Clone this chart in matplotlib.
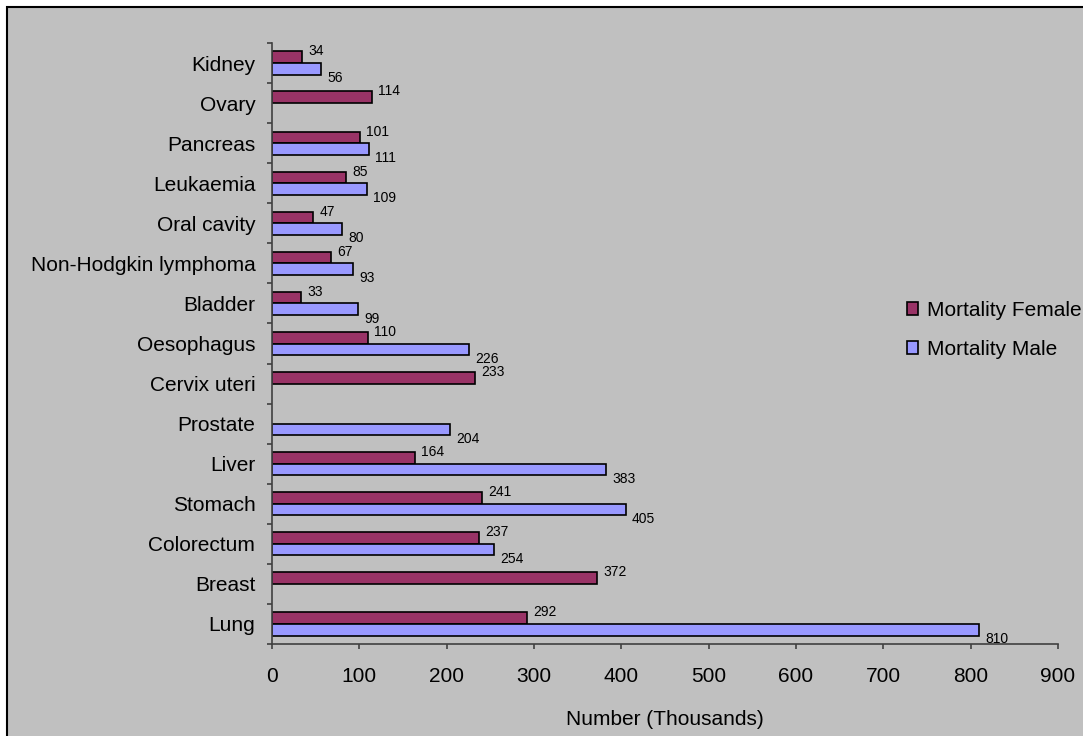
import numpy as np
import matplotlib
matplotlib.use("Agg")
import matplotlib.pyplot as plt
from matplotlib.patches import Rectangle, Patch

plt.rcParams['font.family'] = ['Liberation Sans', 'DejaVu Sans']

# Cancer sites, listed from bottom to top of the chart
sites = ["Lung", "Breast", "Colorectum", "Stomach", "Liver", "Prostate",
         "Cervix uteri", "Oesophagus", "Bladder", "Non-Hodgkin lymphoma",
         "Oral cavity", "Leukaemia", "Pancreas", "Ovary", "Kidney"]
female = [292, 372, 237, 241, 164, np.nan, 233, 110, 33, 67, 47, 85, 101, 114, 34]
male = [810, np.nan, 254, 405, 383, 204, np.nan, 226, 99, 93, 80, 109, 111, np.nan, 56]
x_ticks = [0, 100, 200, 300, 400, 500, 600, 700, 800, 900]

female_color = "#993366"
male_color = "#9999FF"
bg = "#C0C0C0"
axis_color = "#404040"

W, H = 1083, 736
fig = plt.figure(figsize=(W / 100, H / 100), dpi=100, facecolor="white")

# chart area panel
panel = Rectangle((7 / W, -0.05), 1.2, 1 - 7 / H + 0.05,
                  transform=fig.transFigure, facecolor=bg,
                  edgecolor="black", linewidth=1.5, zorder=-10)
fig.add_artist(panel)

ax = fig.add_axes([272 / W, 1 - 644 / H, (1058 - 272) / W, (644 - 43) / H])
ax.set_facecolor("none")
ax.set_zorder(5)

y = np.arange(len(sites))
h = 0.29
f_arr = np.array(female, dtype=float)
m_arr = np.array(male, dtype=float)

fmask = ~np.isnan(f_arr)
mmask = ~np.isnan(m_arr)
ax.barh(y[fmask] + h / 2, f_arr[fmask], height=h, color=female_color,
        edgecolor="black", linewidth=1.2, label="Mortality Female")
ax.barh(y[mmask] - h / 2, m_arr[mmask], height=h, color=male_color,
        edgecolor="black", linewidth=1.2, label="Mortality Male")

for yi, v in zip(y[fmask], f_arr[fmask]):
    ax.annotate(f"{int(v)}", (v, yi + h), xytext=(4.5, 0),
                textcoords="offset points", va="center", ha="left",
                fontsize=10, color="black")
for yi, v in zip(y[mmask], m_arr[mmask]):
    ax.annotate(f"{int(v)}", (v, yi - h), xytext=(4.5, -2.5),
                textcoords="offset points", va="center", ha="left",
                fontsize=10, color="black")

ax.set_xlim(0, 900)
ax.set_ylim(-0.5, len(sites) - 0.5)
ax.set_xticks(x_ticks)
ax.set_xticklabels([str(t) for t in x_ticks], fontsize=15)

# category labels sit between boundary ticks
ax.set_yticks(np.arange(-0.5, len(sites), 1.0))
ax.set_yticklabels([])
ax.set_yticks(y, minor=True)
ax.set_yticklabels(sites, minor=True, fontsize=15)
ax.tick_params(axis="y", which="minor", length=0, pad=12)
ax.tick_params(axis="y", which="major", length=3.5, width=1.2, color=axis_color, direction="out")
ax.tick_params(axis="x", length=3.5, width=1.2, color=axis_color, direction="out", pad=13)

for s in ["top", "right"]:
    ax.spines[s].set_visible(False)
for s in ["left", "bottom"]:
    ax.spines[s].set_color(axis_color)
    ax.spines[s].set_linewidth(1.2)

ax.set_xlabel("Number (Thousands)", fontsize=15, labelpad=17)

handles = [Patch(facecolor=female_color, edgecolor="black", linewidth=1.2),
           Patch(facecolor=male_color, edgecolor="black", linewidth=1.2)]
fig.legend(handles, ["Mortality Female", "Mortality Male"], loc="center left",
           bbox_to_anchor=(907 / W, 1 - 330 / H), frameon=False, fontsize=15,
           handlelength=0.55, handleheight=0.55, handletextpad=0.4,
           labelspacing=0.95, borderpad=0, borderaxespad=0)

fig.savefig("out.png", dpi=100, facecolor="white")
